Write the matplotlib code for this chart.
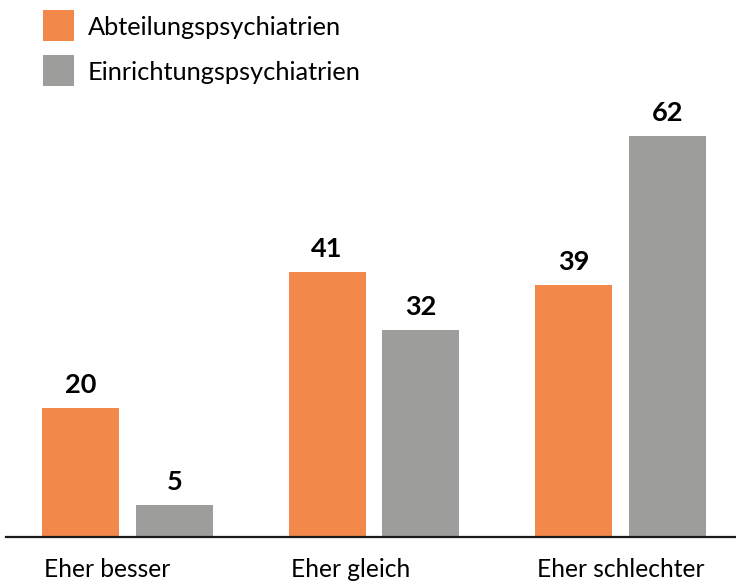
import matplotlib
matplotlib.use("Agg")
import matplotlib.pyplot as plt
from matplotlib.patches import Rectangle
import numpy as np

categories = ["Eher besser", "Eher gleich", "Eher schlechter"]
series_names = ["Abteilungspsychiatrien", "Einrichtungspsychiatrien"]
abteilung = [20, 41, 39]
einrichtung = [5, 32, 62]

ORANGE = "#F2894B"
GRAY = "#9D9D9C"

plt.rcParams["font.family"] = ["Lato", "DejaVu Sans"]

W, H = 736, 582
fig = plt.figure(figsize=(W / 100, H / 100), dpi=100)

# axes placed in pixels: baseline at y=537, left edge at x=6
base_px = 537
ax = fig.add_axes([6 / W, (H - base_px) / H, (W - 6) / W, base_px / H])

x = np.arange(len(categories))
width = 0.312
off = 0.19
b1 = ax.bar(x - off, abteilung, width, color=ORANGE, label=series_names[0])
b2 = ax.bar(x + off, einrichtung, width, color=GRAY, label=series_names[1])

ax.set_xlim(-0.493, 2.469)
ax.set_ylim(0, base_px / 6.47)

for bars, vals in ((b1, abteilung), (b2, einrichtung)):
    for r, v in zip(bars, vals):
        ax.annotate(str(v), (r.get_x() + r.get_width() / 2, r.get_height()),
                    xytext=(0, 10.5), textcoords="offset points",
                    ha="center", va="baseline", fontsize=19.5, fontweight="bold")

for s in ("top", "right", "left"):
    ax.spines[s].set_visible(False)
ax.spines["bottom"].set_linewidth(1.6)
ax.spines["bottom"].set_color("#1a1a1a")
ax.set_yticks([])
ax.set_xticks([])

# category labels: left-aligned with the left edge of each group's first bar
for r, cat in zip(b1, categories):
    ax.annotate(cat, (r.get_x(), 0), xytext=(1.5, -29), textcoords="offset points",
                ha="left", va="baseline", fontsize=17.7)

# legend drawn by hand (pixel positions from the reference)
for i, (name, bars) in enumerate(zip(series_names, (b1, b2))):
    top = 10 + 45 * i
    fig.add_artist(Rectangle((43 / W, 1 - (top + 31) / H), 31 / W, 31 / H,
                             transform=fig.transFigure,
                             color=bars.patches[0].get_facecolor(), lw=0))
    fig.text(88 / W, 1 - (top + 25) / H, name, ha="left", va="baseline",
             fontsize=18.3)

fig.savefig("out.png", dpi=100)
